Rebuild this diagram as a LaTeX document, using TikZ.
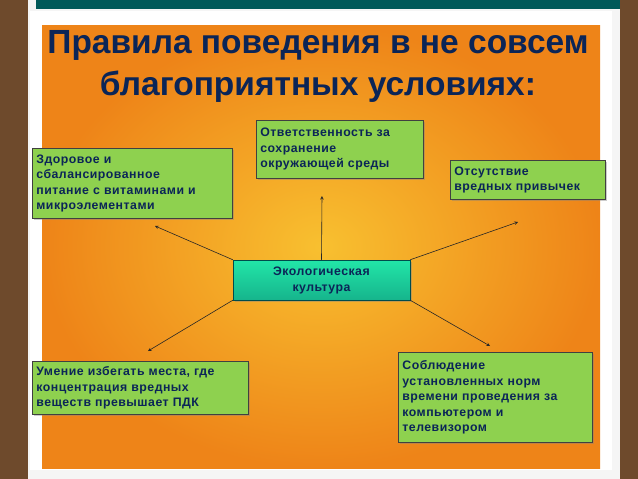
\documentclass[tikz,border=0pt]{standalone}
\usepackage{fontspec}
\setmainfont{Liberation Sans}
\usetikzlibrary{shadows}
\definecolor{navy}{HTML}{0B2557}
\definecolor{boxg}{HTML}{8ED14F}
\definecolor{wood}{HTML}{6E4A2C}
\definecolor{ecotop}{HTML}{22E6A8}
\definecolor{ecobot}{HTML}{16B48C}
\definecolor{inner}{HTML}{F8C030}
\definecolor{outer}{HTML}{EE8418}
\tikzset{
  box/.style={draw=black!75, line width=0.8pt, fill=boxg, drop shadow={shadow xshift=2pt,shadow yshift=-2pt,opacity=0.4}, align=left, anchor=north west, inner sep=4pt, font=\fontsize{12.3}{15.5}\selectfont\bfseries\addfontfeatures{LetterSpace=4}, text=navy},
  arr/.style={-stealth, line width=0.6pt, black!85}
}
\begin{document}
\begin{tikzpicture}[x=1pt,y=-1pt]
\useasboundingbox (0,0) rectangle (638,479);
\fill[wood] (0,0) rectangle (638,479);
\fill[white!92!gray] (28,0) rectangle (620,479);
\fill[teal!70!black] (36,0) rectangle (620,9);
\fill[white] (30,11) rectangle (612,470);
\shade[inner color=inner, outer color=outer] (42,25) rectangle (600,468);
\node[font=\fontsize{33.5}{42}\selectfont\bfseries, text=navy, align=center] (title) at (318,66) {Правила поведения в не совсем\\благоприятных условиях:};
\node[box, minimum width=167pt, minimum height=58pt, text width=159pt] (resp) at (256,120) {Ответственность за\\сохранение\\окружающей среды};
\node[box, minimum width=200pt, minimum height=70pt, text width=192pt] (health) at (32,148) {Здоровое и\\сбалансированное\\питание с витаминами и\\микроэлементами};
\node[box, minimum width=155pt, minimum height=39pt, text width=147pt] (habits) at (450,160) {Отсутствие\\вредных привычек};
\node[box, minimum width=216pt, minimum height=53pt, text width=208pt] (avoid) at (32,361) {Умение избегать места, где\\концентрация вредных\\веществ превышает ПДК};
\node[box, minimum width=194pt, minimum height=90pt, text width=186pt] (norms) at (398,352) {Соблюдение\\установленных норм\\времени проведения за\\компьютером и\\телевизором};
\node[draw=teal!60!black, line width=0.5pt, top color=ecotop, bottom color=ecobot, minimum width=177pt, minimum height=40pt, align=center, font=\fontsize{12.3}{16}\selectfont\bfseries\addfontfeatures{LetterSpace=4}, text=navy, drop shadow={shadow xshift=2pt,shadow yshift=-2pt,opacity=0.4}] (eco) at (321.5,280) {Экологическая\\культура};
\coordinate (a1) at (322,196);
\coordinate (a2) at (155,226);
\coordinate (a3) at (518,222);
\coordinate (a4) at (148,351);
\coordinate (a5) at (490,346);
\draw[arr] (eco.north) -- (a1);
\draw[arr] (eco.north west) -- (a2);
\draw[arr] (eco.north east) -- (a3);
\draw[arr] (eco.south west) -- (a4);
\draw[arr] (eco.south east) -- (a5);
\end{tikzpicture}
\end{document}
